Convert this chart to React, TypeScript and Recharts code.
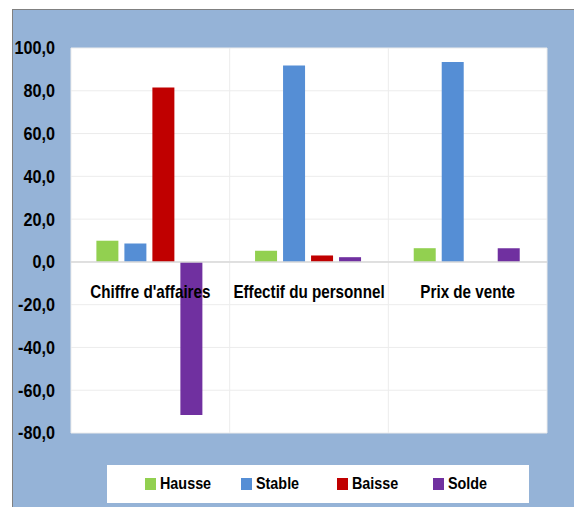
import React from "react";
import { BarChart, Bar, XAxis, YAxis, CartesianGrid, ReferenceLine, Legend } from "recharts";

const categories = ["Chiffre d'affaires", "Effectif du personnel", "Prix de vente"];
const hausse = [9.9, 5.2, 6.4];
const stable = [8.6, 91.8, 93.5];
const baisse = [81.5, 3.0, 0];
const solde = [-71.6, 2.2, 6.4];
const yTicks = [-80, -60, -40, -20, 0, 20, 40, 60, 80, 100];

const seriesNames = ["Hausse", "Stable", "Baisse", "Solde"];
const seriesColors = ["#92D050", "#558ED5", "#C00000", "#7030A0"];

const data = categories.map((c, i) => ({
  name: c,
  Hausse: hausse[i],
  Stable: stable[i],
  Baisse: baisse[i],
  Solde: solde[i],
}));

const W = 574;
const H = 507;
const M = { top: 48, right: 27, bottom: 73, left: 21 };
const Y_MIN = -80;
const Y_MAX = 100;
const PLOT_H = H - M.top - M.bottom;
const FONT = "'Liberation Sans', Arial, sans-serif";
const SQUEEZE = 0.845;

const CatTick = (props: any) => {
  const { x, payload } = props;
  const zeroY = M.top + (PLOT_H * Y_MAX) / (Y_MAX - Y_MIN);
  return (
    <text
      transform={`translate(${x},${zeroY + 36}) scale(${SQUEEZE},1)`}
      x={0}
      y={0}
      textAnchor="middle"
      fontFamily={FONT}
      fontWeight="bold"
      fontSize={18}
      fill="#000"
    >
      {payload.value}
    </text>
  );
};

const ValTick = (props: any) => {
  const { x, y, payload } = props;
  const label = Number(payload.value).toFixed(1).replace(".", ",");
  return (
    <text
      transform={`translate(${x},${y}) scale(0.9,1)`}
      x={0}
      y={0}
      dy="0.355em"
      textAnchor="end"
      fontFamily={FONT}
      fontWeight="bold"
      fontSize={18}
      fill="#000"
    >
      {label}
    </text>
  );
};

const LegendContent = () => (
  <div
    style={{
      background: "#fff",
      width: 422,
      height: 38,
      display: "flex",
      alignItems: "center",
      paddingLeft: 38,
      boxSizing: "border-box",
      fontFamily: FONT,
      fontWeight: "bold",
      fontSize: 17,
      color: "#000",
    }}
  >
    {seriesNames.map((n, i) => (
      <div key={n} style={{ width: 98, display: "flex", alignItems: "center" }}>
        <span
          style={{
            display: "inline-block",
            width: 11,
            height: 12,
            background: seriesColors[i],
            marginRight: 4,
          }}
        />
        <span
          style={{
            display: "inline-block",
            transform: `scaleX(${SQUEEZE})`,
            transformOrigin: "left center",
            whiteSpace: "nowrap",
          }}
        >
          {n}
        </span>
      </div>
    ))}
  </div>
);

export default function App() {
  return (
    <div style={{ position: "absolute", left: 0, top: 0, width: W, height: H, overflow: "hidden" }}>
      <div
        style={{
          position: "absolute",
          left: 12,
          top: 9,
          width: W - 12,
          height: H - 9,
          background: "#95B3D7",
          borderTop: "1px solid #808080",
          borderLeft: "1px solid #808080",
          boxSizing: "border-box",
        }}
      />
      <div style={{ position: "absolute", left: 0, top: 0 }}>
        <BarChart
          width={W}
          height={H}
          data={data}
          margin={M}
          barCategoryGap="16%"
          barGap={6}
        >
          <CartesianGrid
            stroke="#ECECEC"
            fill="#FFFFFF"
            verticalCoordinatesGenerator={({ offset }: any) =>
              [0, 1, 2, 3].map((k) => offset.left + (offset.width * k) / categories.length)
            }
          />
          <YAxis
            domain={[Y_MIN, Y_MAX]}
            ticks={yTicks}
            width={50}
            axisLine={false}
            tickLine={false}
            tickSize={6}
            tickMargin={10}
            interval={0}
            tick={<ValTick />}
          />
          <ReferenceLine y={0} stroke="#D9D9D9" strokeWidth={1.5} />
          {seriesNames.map((n, i) => (
            <Bar key={n} dataKey={n} fill={seriesColors[i]} isAnimationActive={false} />
          ))}
          <XAxis
            dataKey="name"
            axisLine={false}
            tickLine={false}
            height={1}
            tick={<CatTick />}
            interval={0}
          />
          <Legend
            layout="horizontal"
            verticalAlign="middle"
            align="center"
            wrapperStyle={{ left: 107, top: 465, width: 422, height: 38 }}
            content={<LegendContent />}
          />
        </BarChart>
      </div>
    </div>
  );
}
